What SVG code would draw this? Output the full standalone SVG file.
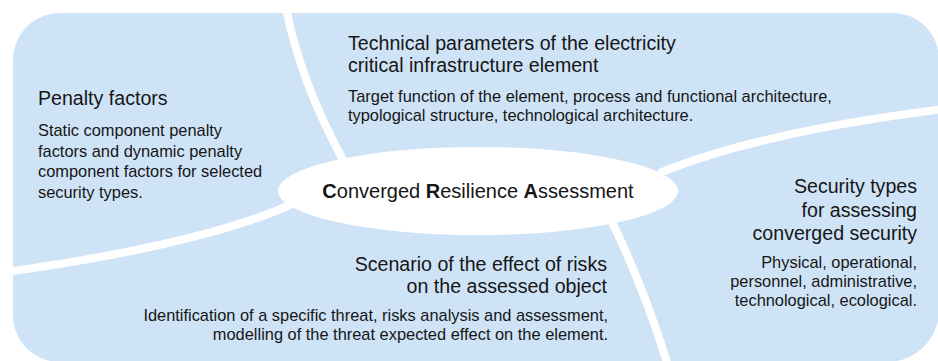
<svg xmlns="http://www.w3.org/2000/svg" width="938" height="361" viewBox="0 0 938 361">
<style>
.bg{fill:#cfe3f7}
.sep{fill:none;stroke:#ffffff;stroke-width:8;stroke-linecap:round}
text{font-family:"Liberation Sans",Arial,sans-serif;fill:#161616}
.h{font-size:19.6px}
.b{font-size:16.4px}
.c{font-size:20px}
.r{text-anchor:end}
</style>
<rect width="938" height="361" fill="#ffffff"/>
<path class="bg" d="M60,13 H893 A46,46 0 0 1 939,59 V310 A52,52 0 0 1 887,362 H60 A47,47 0 0 1 13,315 V60 A47,47 0 0 1 60,13 Z"/>
<g id="connectors">
<path class="sep" d="M286,8 Q300,80 342,158"/>
<path class="sep" d="M662,172 Q760,132 944,109"/>
<path class="sep" d="M290,205 Q200,245 6,272"/>
<path class="sep" d="M612,222 Q645,290 668,366"/>
</g>
<g id="center">
<ellipse cx="478" cy="191" rx="200" ry="44" fill="#ffffff"/>
<text class="c" x="478" y="198" text-anchor="middle"><tspan font-weight="bold">C</tspan>onverged <tspan font-weight="bold">R</tspan>esilience <tspan font-weight="bold">A</tspan>ssessment</text>
</g>
<g id="penalty">
<text class="h" x="38" y="105">Penalty factors</text>
<text class="b" x="38" y="136">Static component penalty</text>
<text class="b" x="38" y="156.5">factors and dynamic penalty</text>
<text class="b" x="38" y="177">component factors for selected</text>
<text class="b" x="38" y="197.5">security types.</text>
</g>
<g id="technical">
<text class="h" x="348" y="50">Technical parameters of the electricity</text>
<text class="h" x="348" y="72">critical infrastructure element</text>
<text class="b" x="348" y="102">Target function of the element, process and functional architecture,</text>
<text class="b" x="348" y="121">typological structure, technological architecture.</text>
</g>
<g id="security">
<text class="h r" x="917" y="193">Security types</text>
<text class="h r" x="917" y="216.5">for assessing</text>
<text class="h r" x="917" y="240">converged security</text>
<text class="b r" x="917" y="268">Physical, operational,</text>
<text class="b r" x="917" y="287">personnel, administrative,</text>
<text class="b r" x="917" y="306">technological, ecological.</text>
</g>
<g id="scenario">
<text class="h r" x="607" y="271">Scenario of the effect of risks</text>
<text class="h r" x="607" y="293">on the assessed object</text>
<text class="b r" x="608" y="321">Identification of a specific threat, risks analysis and assessment,</text>
<text class="b r" x="608" y="340">modelling of the threat expected effect on the element.</text>
</g>
</svg>
